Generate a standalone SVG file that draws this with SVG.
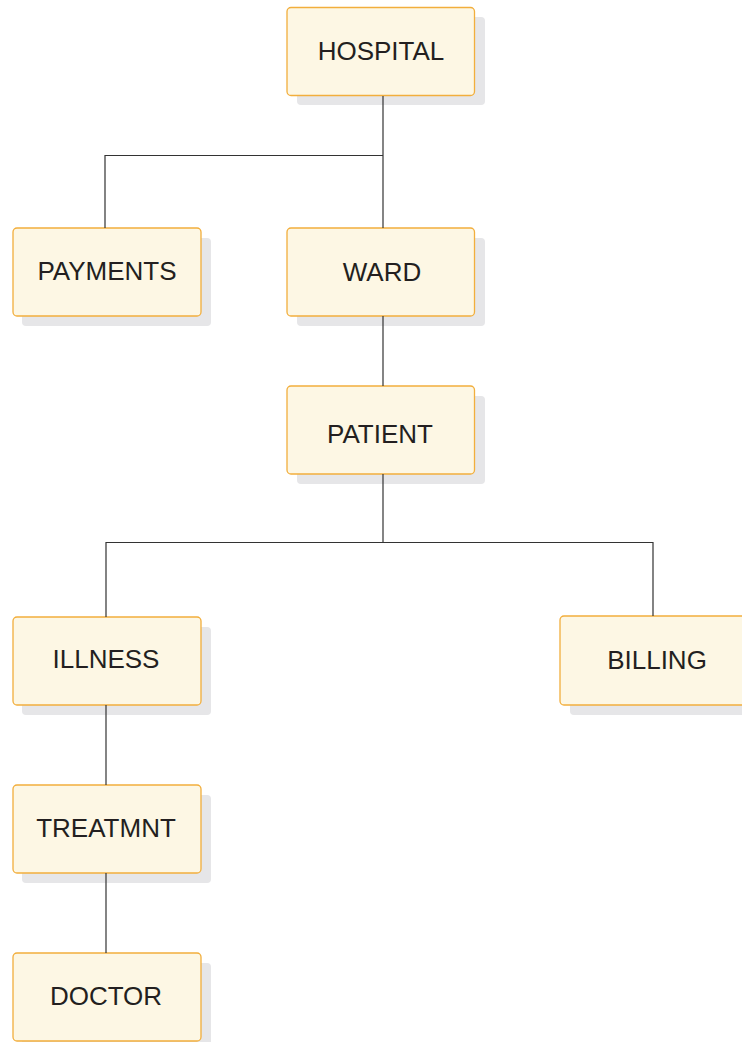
<svg xmlns="http://www.w3.org/2000/svg" width="742" height="1042" viewBox="0 0 742 1042">
<defs>
<style>
.shadow{fill:#e6e6e8;}
.box{fill:#fdf7e4;stroke:#f2ae3c;stroke-width:1.3;}
.lbl{font-family:"Liberation Sans",Arial,sans-serif;font-size:26px;fill:#231f20;text-anchor:middle;dominant-baseline:central;}
.conn{fill:none;stroke:#333;stroke-width:1.2;}
</style>
</defs>
<rect width="742" height="1042" fill="#ffffff"/>
<g id="HOSPITAL">
<rect class="shadow" x="297" y="17" width="188" height="88" rx="4"/>
<rect class="box" x="287" y="7.5" width="187.5" height="88" rx="4"/>
<text class="lbl" x="381" y="51">HOSPITAL</text>
</g>
<g id="PAYMENTS">
<rect class="shadow" x="22" y="238" width="189" height="88" rx="4"/>
<rect class="box" x="13" y="228" width="188" height="88" rx="4"/>
<text class="lbl" x="107" y="271">PAYMENTS</text>
</g>
<g id="WARD">
<rect class="shadow" x="297" y="238" width="188" height="88" rx="4"/>
<rect class="box" x="287" y="228" width="187.5" height="88" rx="4"/>
<text class="lbl" x="382" y="272">WARD</text>
</g>
<g id="PATIENT">
<rect class="shadow" x="297" y="396" width="188" height="88" rx="4"/>
<rect class="box" x="287" y="386" width="187.5" height="88" rx="4"/>
<text class="lbl" x="380" y="434">PATIENT</text>
</g>
<g id="ILLNESS">
<rect class="shadow" x="22" y="627" width="189" height="88" rx="4"/>
<rect class="box" x="13" y="617" width="188" height="88" rx="4"/>
<text class="lbl" x="106" y="659">ILLNESS</text>
</g>
<g id="BILLING">
<rect class="shadow" x="570" y="626" width="190" height="89" rx="4"/>
<rect class="box" x="560" y="616" width="190" height="89" rx="4"/>
<text class="lbl" x="657" y="660">BILLING</text>
</g>
<g id="TREATMNT">
<rect class="shadow" x="22" y="795" width="189" height="88" rx="4"/>
<rect class="box" x="13" y="785" width="188" height="88" rx="4"/>
<text class="lbl" x="106" y="828">TREATMNT</text>
</g>
<g id="DOCTOR">
<rect class="shadow" x="22" y="963" width="189" height="88" rx="4"/>
<rect class="box" x="13" y="953" width="188" height="88" rx="4"/>
<text class="lbl" x="106" y="996">DOCTOR</text>
</g>
<g id="connectors">
<path class="conn" d="M383,96 V228"/>
<path class="conn" d="M105,228 V155.5 H383"/>
<path class="conn" d="M383,316 V386"/>
<path class="conn" d="M383,474 V542.5"/>
<path class="conn" d="M106,617 V542.5 H653 V616"/>
<path class="conn" d="M106,705 V785"/>
<path class="conn" d="M106,873 V953"/>
</g>
</svg>
